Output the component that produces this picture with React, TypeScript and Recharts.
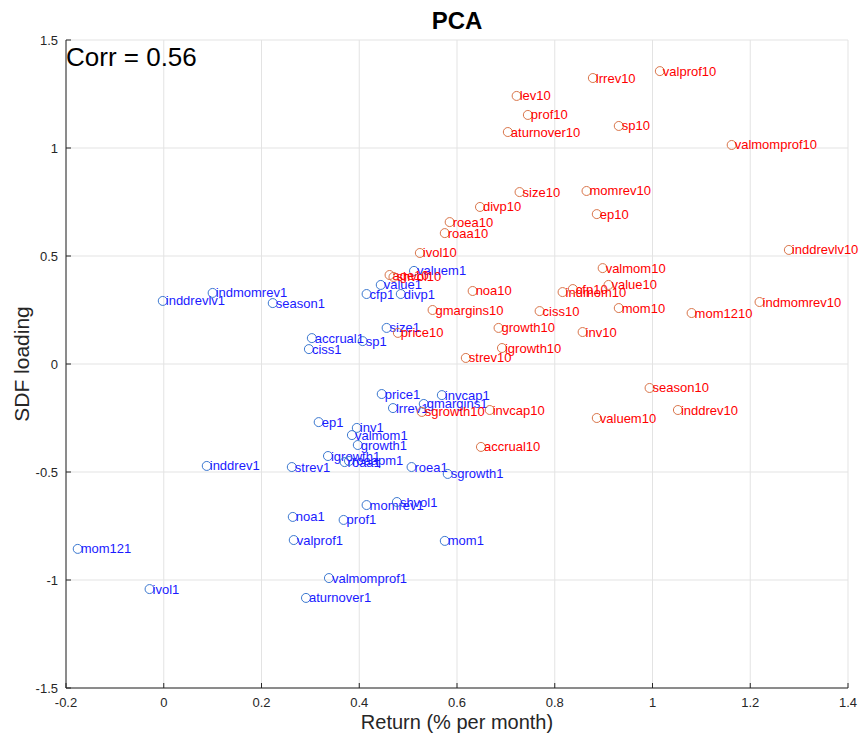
import React from 'react';
import { ScatterChart, Scatter, XAxis, YAxis, CartesianGrid } from 'recharts';

// Decile-10 portfolios (red)
const redNames = ['valprof10','lrrev10','lev10','prof10','aturnover10','sp10','valmomprof10','size10','momrev10','divp10','ep10','roea10','roaa10','ivol10','inddrevlv10','valmom10','age10','shvol10','noa10','indmom10','cfp10','value10','mom10','ciss10','gmargins10','growth10','inv10','price10','igrowth10','strev10','indmomrev10','mom1210','season10','inddrev10','valuem10','invcap10','accrual10','sgrowth10'];
const redX = [1.015,0.878,0.722,0.745,0.704,0.931,1.162,0.728,0.865,0.647,0.886,0.585,0.575,0.524,1.279,0.898,0.462,0.470,0.632,0.816,0.837,0.910,0.931,0.769,0.550,0.685,0.857,0.479,0.692,0.618,1.219,1.080,0.994,1.052,0.886,0.667,0.649,0.528];
const redY = [1.356,1.324,1.241,1.153,1.074,1.102,1.014,0.796,0.801,0.727,0.694,0.657,0.606,0.514,0.528,0.444,0.412,0.403,0.338,0.333,0.347,0.366,0.259,0.245,0.250,0.167,0.148,0.144,0.074,0.028,0.287,0.236,-0.111,-0.213,-0.250,-0.213,-0.384,-0.222];

// Decile-1 portfolios (blue)
const blueNames = ['valuem1','value1','cfp1','divp1','size1','sp1','accrual1','ciss1','season1','indmomrev1','inddrevlv1','price1','lrrev1','gmargins1','invcap1','ep1','inv1','valmom1','growth1','igrowth1','roaa1','roaapm1','strev1','roea1','sgrowth1','inddrev1','momrev1','shvol1','noa1','prof1','valprof1','mom1','mom121','valmomprof1','ivol1','aturnover1'];
const blueX = [0.512,0.444,0.415,0.485,0.456,0.407,0.303,0.297,0.223,0.100,-0.002,0.446,0.469,0.532,0.569,0.317,0.395,0.385,0.397,0.336,0.370,0.379,0.262,0.507,0.581,0.088,0.415,0.477,0.264,0.368,0.266,0.575,-0.176,0.338,-0.029,0.291];
const blueY = [0.431,0.366,0.324,0.324,0.167,0.106,0.120,0.069,0.282,0.329,0.292,-0.139,-0.204,-0.185,-0.144,-0.269,-0.296,-0.329,-0.375,-0.426,-0.454,-0.449,-0.477,-0.477,-0.509,-0.472,-0.653,-0.639,-0.708,-0.722,-0.815,-0.819,-0.856,-0.991,-1.042,-1.083];

const xTicks = [-0.2, 0, 0.2, 0.4, 0.6, 0.8, 1, 1.2, 1.4];
const yTicks = [-1.5, -1, -0.5, 0, 0.5, 1, 1.5];

const redData = redNames.map((name, i) => ({ name, x: redX[i], y: redY[i] }));
const blueData = blueNames.map((name, i) => ({ name, x: blueX[i], y: blueY[i] }));

const FONT = '"Liberation Sans", Arial, Helvetica, sans-serif';

const makeShape = (markerColor: string, textColor: string) => (props: any) => {
  const { cx, cy, payload } = props;
  if (cx == null || cy == null) return <g />;
  return (
    <g>
      <circle cx={cx} cy={cy} r={4.5} fill="none" stroke={markerColor} strokeWidth={1} />
      <text x={cx + 3} y={cy} dominantBaseline="central" fill={textColor} fontSize={13} fontFamily={FONT}>
        {payload.name}
      </text>
    </g>
  );
};

const blueShape = makeShape('#3b78d0', '#1a1aff');
const redShape = makeShape('#d9754a', '#ff0000');

export default function App() {
  return (
    <div style={{ position: 'absolute', left: 0, top: 0, width: 860, height: 738, background: '#fff' }}>
      <ScatterChart width={860} height={738} margin={{ top: 40, right: 12, bottom: 0, left: 0 }}>
        <CartesianGrid stroke="#e3e3e3" strokeWidth={1} />
        <XAxis
          type="number"
          dataKey="x"
          domain={[-0.2, 1.4]}
          ticks={xTicks}
          height={50}
          tickSize={-5}
          tickMargin={15}
          stroke="#262626"
          tick={{ fill: '#262626', fontSize: 13, fontFamily: FONT }}
          interval={0}
        />
        <YAxis
          type="number"
          dataKey="y"
          domain={[-1.5, 1.5]}
          ticks={yTicks}
          width={66}
          tickSize={-5}
          tickMargin={13}
          stroke="#262626"
          tick={{ fill: '#262626', fontSize: 13, fontFamily: FONT }}
          interval={0}
        />
        <Scatter data={blueData} shape={blueShape} isAnimationActive={false} />
        <Scatter data={redData} shape={redShape} isAnimationActive={false} />
      </ScatterChart>
      <svg width={860} height={738} style={{ position: 'absolute', left: 0, top: 0, pointerEvents: 'none' }}>
        <text x={457} y={29} textAnchor="middle" fontSize={24} fontWeight="bold" fontFamily={FONT} fill="#000">PCA</text>
        <text x={66} y={66} fontSize={26} fontFamily={FONT} fill="#000">Corr = 0.56</text>
        <text x={457} y={729} textAnchor="middle" fontSize={20} fontFamily={FONT} fill="#262626">Return (% per month)</text>
        <text x={29} y={364} textAnchor="middle" fontSize={21} fontFamily={FONT} fill="#262626" transform="rotate(-90 29 364)">SDF loading</text>
      </svg>
    </div>
  );
}
